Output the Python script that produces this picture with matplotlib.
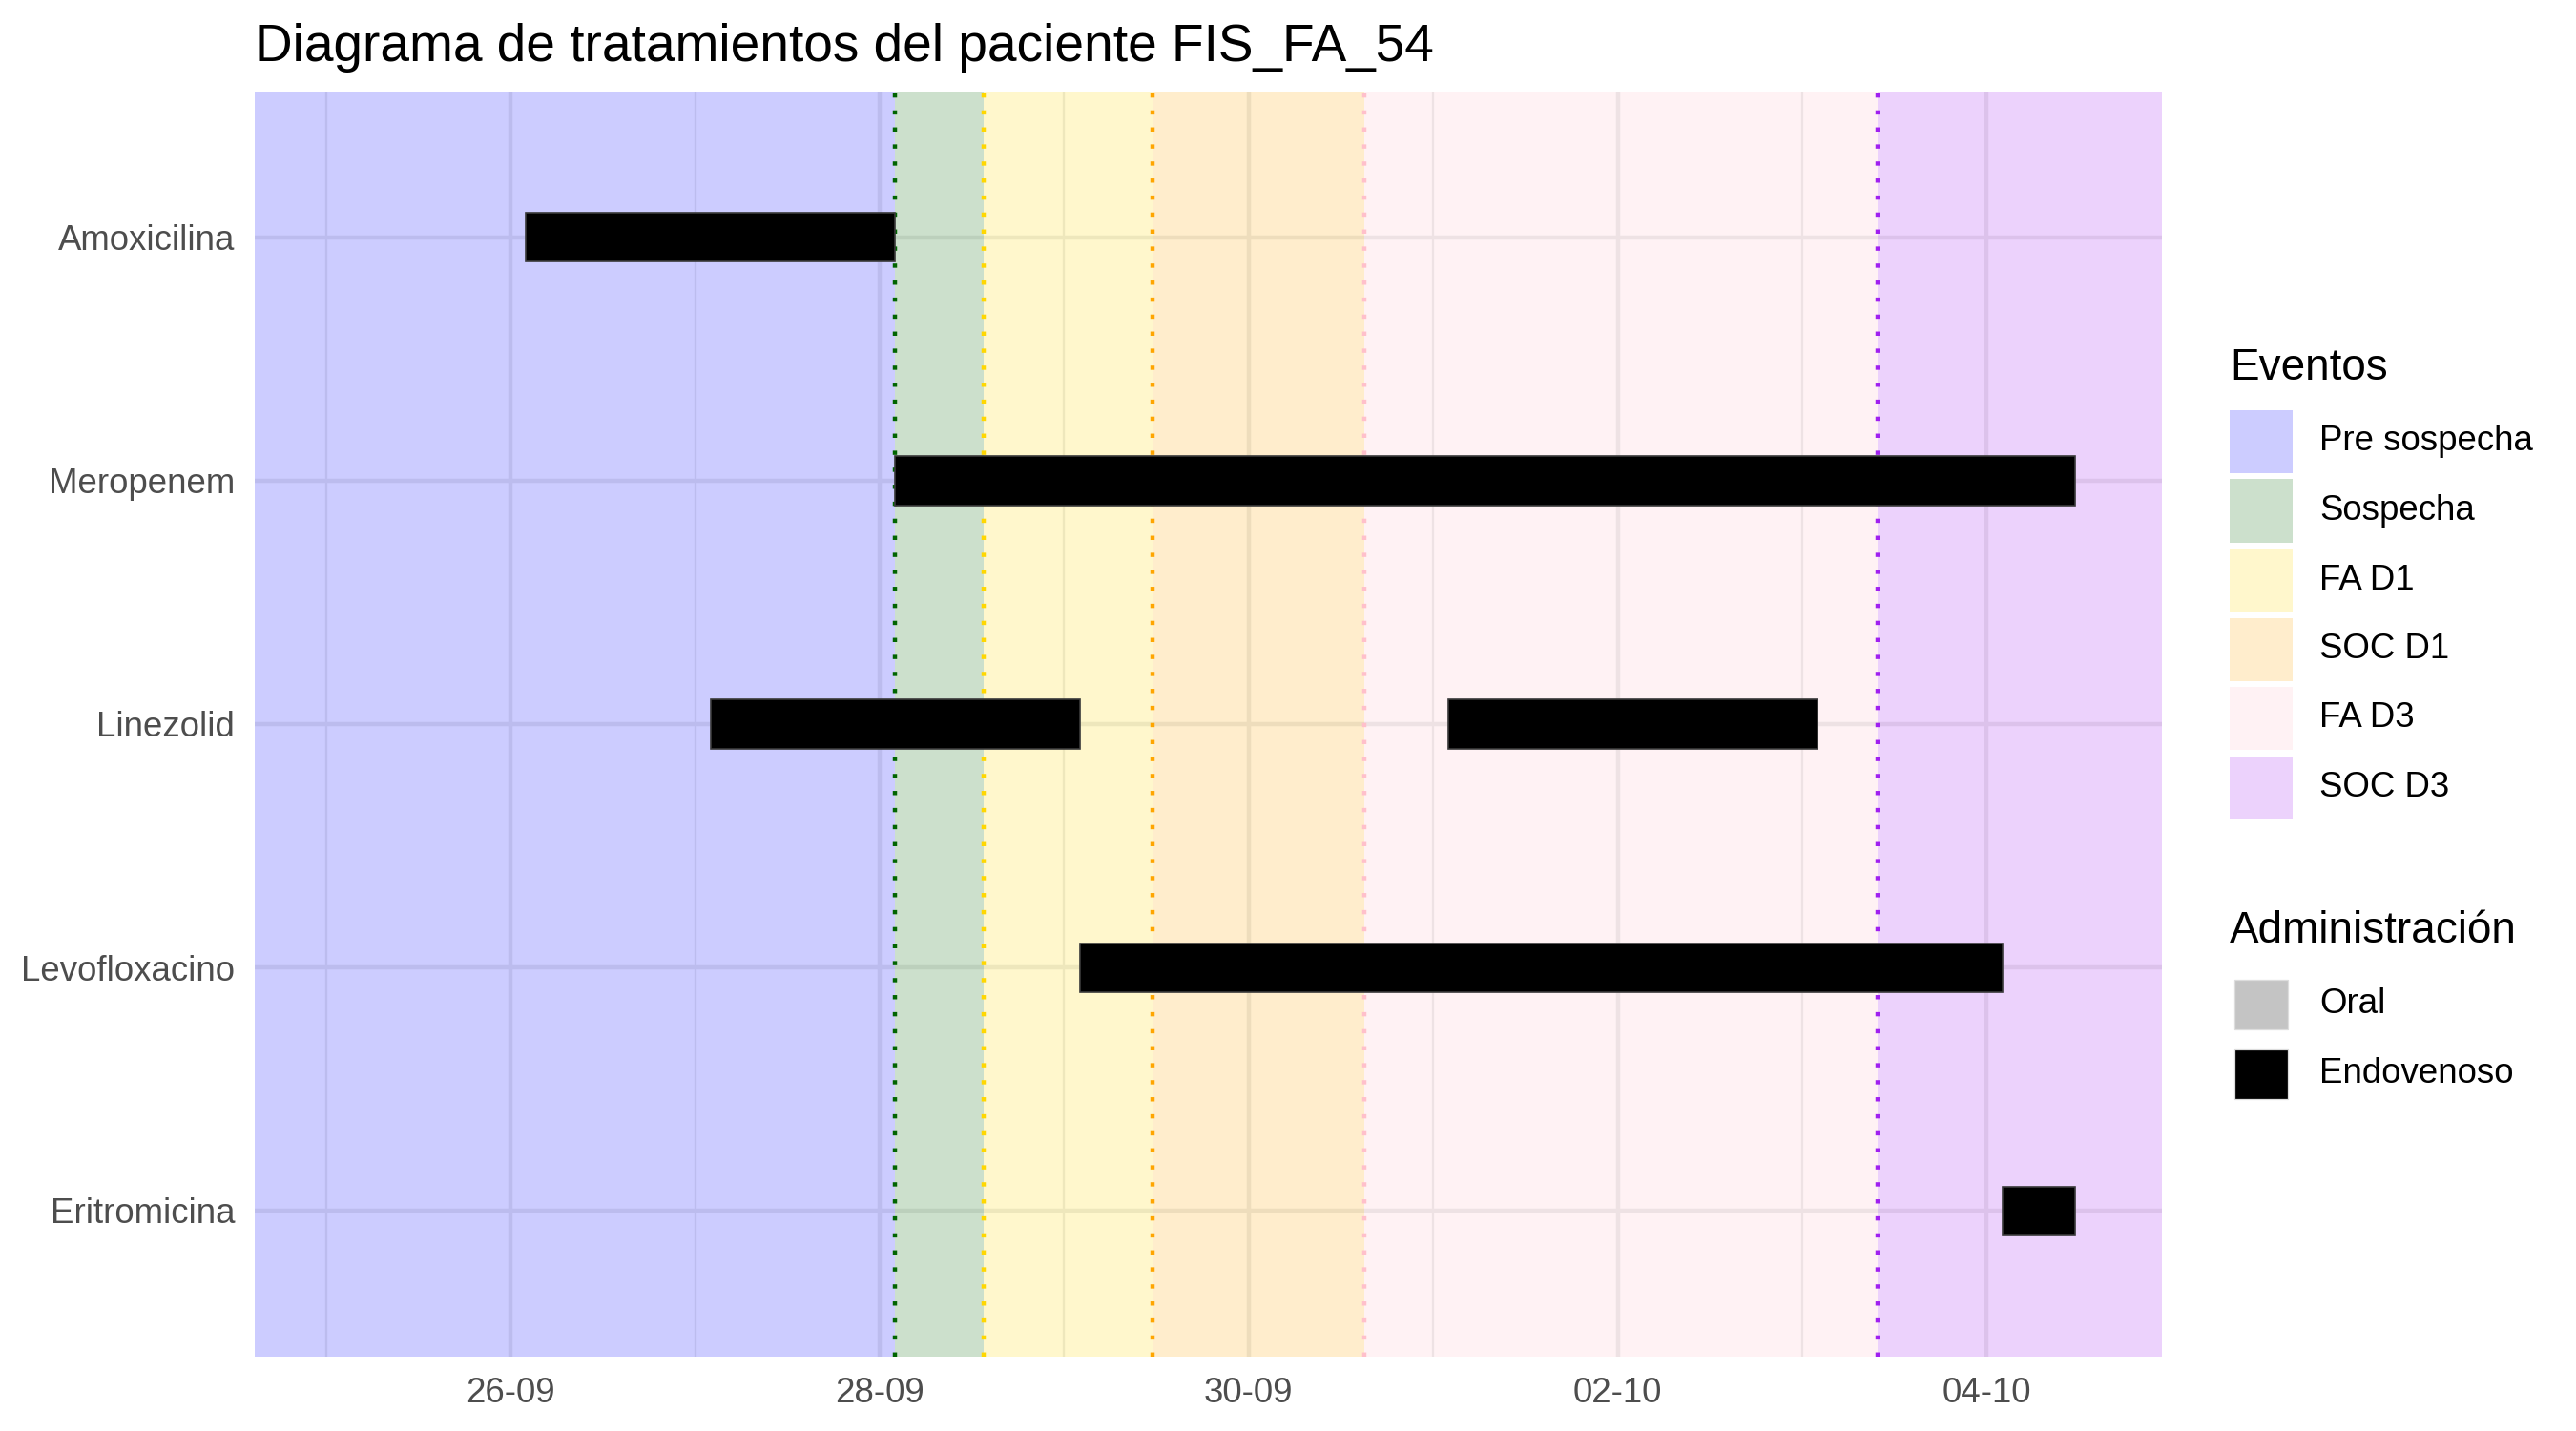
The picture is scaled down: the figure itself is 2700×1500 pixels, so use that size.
import matplotlib.pyplot as plt
import matplotlib.dates as mdates
from matplotlib.patches import Rectangle
from datetime import datetime

plt.rcParams['font.family'] = ['Liberation Sans', 'DejaVu Sans']

# tratamientos del paciente
farmacos = ["Amoxicilina", "Meropenem", "Linezolid", "Levofloxacino", "Eritromicina"]
trat_farmaco = ["Amoxicilina", "Meropenem", "Linezolid", "Linezolid", "Levofloxacino", "Eritromicina"]
trat_inicio = ["2023-09-26 02:00", "2023-09-28 02:00", "2023-09-27 02:00",
               "2023-10-01 02:00", "2023-09-29 02:00", "2023-10-04 02:00"]
trat_fin = ["2023-09-28 02:00", "2023-10-04 11:30", "2023-09-29 02:00",
            "2023-10-03 02:00", "2023-10-04 02:00", "2023-10-04 11:30"]
trat_via = ["Endovenoso", "Endovenoso", "Endovenoso", "Endovenoso", "Endovenoso", "Endovenoso"]

# eventos (inicio de cada fase)
eventos = ["Pre sospecha", "Sospecha", "FA D1", "SOC D1", "FA D3", "SOC D3"]
evento_inicio = ["2023-09-25 02:00", "2023-09-28 02:00", "2023-09-28 13:30",
                 "2023-09-29 11:30", "2023-09-30 15:00", "2023-10-03 09:45"]
evento_color = ["blue", "darkgreen", "gold", "orange", "pink", "#A020F0"]
fin_registro = "2023-10-04 11:30"

vias = ["Oral", "Endovenoso"]
via_color = ["#C4C4C4", "black"]

fechas_ticks = ["2023-09-26", "2023-09-28", "2023-09-30", "2023-10-02", "2023-10-04"]


def num(s):
    return mdates.date2num(datetime.fromisoformat(s))


W, H = 2700, 1500
fig = plt.figure(figsize=(9, 5), dpi=300)
ax = fig.add_axes([267 / W, 1 - 1422 / H, (2266 - 267) / W, (1422 - 96) / H])

lo = num(evento_inicio[0])
hi = num(fin_registro)
pad = 0.05 * (hi - lo)
xmin, xmax = lo - pad, hi + pad

# bandas de eventos
bordes = [num(s) for s in evento_inicio[1:]]
starts = [xmin] + bordes
ends = bordes + [xmax]
for s, e, c in zip(starts, ends, evento_color):
    ax.axvspan(s, e, color=c, alpha=0.2, lw=0, zorder=1)
for b, c in zip(bordes, evento_color[1:]):
    ax.axvline(b, color=c, lw=1.07, ls=(0, (1, 3)), zorder=2)

# barras de tratamiento
ypos = {f: i + 1 for i, f in enumerate(farmacos)}
vcol = dict(zip(vias, via_color))
for f, a, b, v in zip(trat_farmaco, trat_inicio, trat_fin, trat_via):
    x0, x1 = num(a), num(b)
    ax.barh(ypos[f], x1 - x0, left=x0, height=0.2, color=vcol[v],
            edgecolor='#3a3a3a', lw=0.4, zorder=3)

ax.set_xlim(xmin, xmax)
ax.set_ylim(len(farmacos) + 0.6, 0.4)
ax.set_yticks(range(1, len(farmacos) + 1))
ax.set_yticklabels(farmacos)
ax.set_xticks([num(d) for d in fechas_ticks])
ax.xaxis.set_major_formatter(mdates.DateFormatter('%d-%m'))
ax.xaxis.set_minor_locator(mdates.DayLocator())
ax.tick_params(which='both', length=0, labelsize=8.8, labelcolor='#4D4D4D', pad=5)
ax.set_axisbelow(True)
ax.grid(True, which='major', color='#EBEBEB', lw=1.07)
ax.grid(True, which='minor', axis='x', color='#EBEBEB', lw=0.53)
for sp in ax.spines.values():
    sp.set_visible(False)

fig.text(267 / W, 1 - 64 / H, "Diagrama de tratamientos del paciente FIS_FA_54",
         fontsize=13.2, va='baseline', ha='left')

# leyendas
kx = 2370
fig.text(2337 / W, 1 - 386 / H, "Eventos", fontsize=11, va='center', ha='left')
for i, (lab, c) in enumerate(zip(eventos, evento_color)):
    yc = 463 + 72.5 * i
    fig.add_artist(Rectangle(((kx - 33) / W, 1 - (yc + 33) / H), 66 / W, 66 / H,
                             transform=fig.transFigure, facecolor=c, alpha=0.2, lw=0))
    fig.text(2431 / W, 1 - yc / H, lab, fontsize=8.8, va='center', ha='left')

fig.text(2337 / W, 1 - 976 / H, "Administración", fontsize=11, va='center', ha='left')
for i, (lab, c) in enumerate(zip(vias, via_color)):
    yc = 1053 + 72.5 * i
    fig.add_artist(Rectangle(((kx - 28) / W, 1 - (yc + 26) / H), 56 / W, 52 / H,
                             transform=fig.transFigure, facecolor=c,
                             edgecolor='#dddddd', lw=0.3))
    fig.text(2431 / W, 1 - yc / H, lab, fontsize=8.8, va='center', ha='left')

fig.savefig("out.png", dpi=300, facecolor='white')
